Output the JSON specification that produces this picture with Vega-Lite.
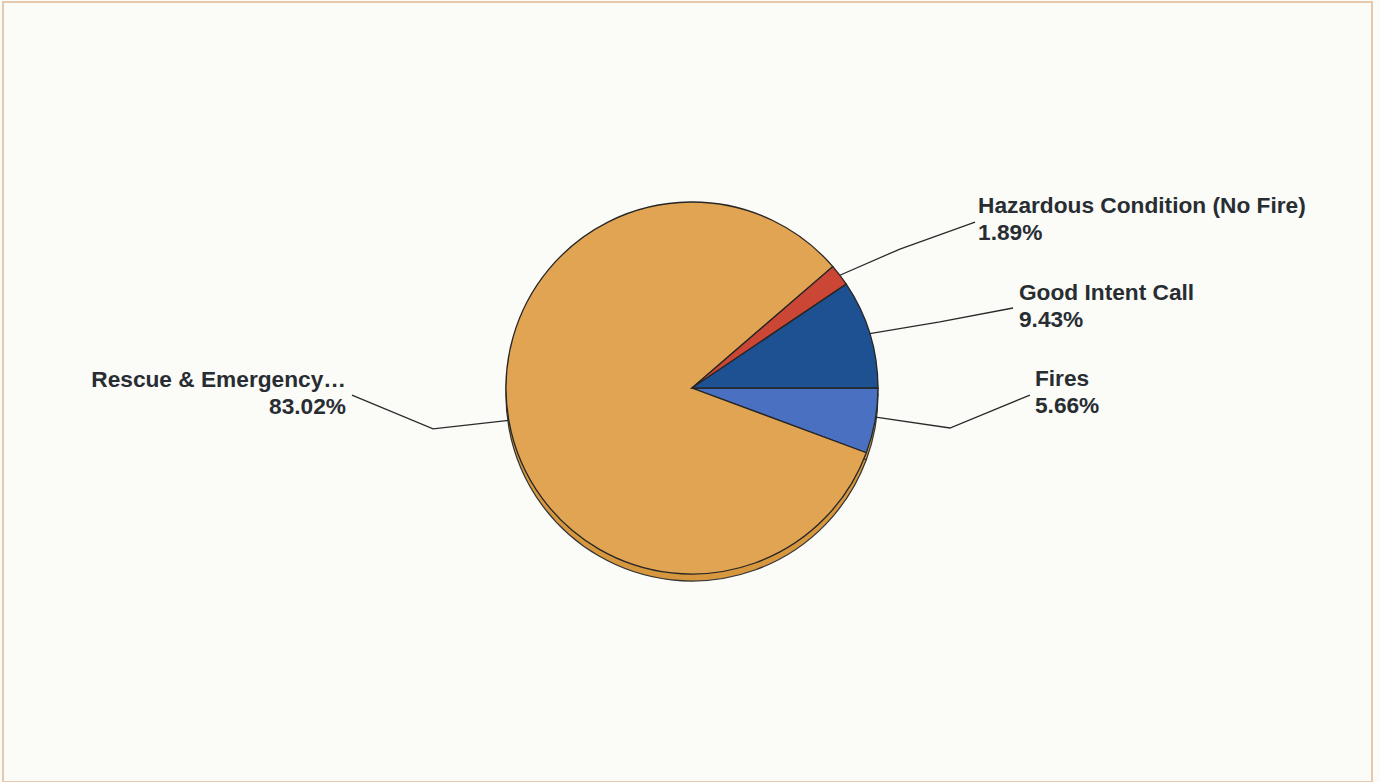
{
  "$schema": "https://vega.github.io/schema/vega-lite/v6.json",
  "width": 1369,
  "height": 780,
  "autosize": {"type": "none"},
  "padding": {"left": 3, "top": 2, "right": 8, "bottom": 0},
  "background": "#FBFBF8",
  "view": {"stroke": "#E6C9AD", "strokeWidth": 2, "fill": "#FBFBF8"},
  "datasets": {
    "slices": [
      {"category": "Fires", "pct": 5.66, "ord": 1},
      {"category": "Rescue & Emergency Medical Service Incident", "pct": 83.02, "ord": 2},
      {"category": "Hazardous Condition (No Fire)", "pct": 1.89, "ord": 3},
      {"category": "Good Intent Call", "pct": 9.43, "ord": 4}
    ],
    "leaders": [
      {"category": "Fires", "seq": 1, "x": 0.988, "y": -0.156},
      {"category": "Fires", "seq": 2, "x": 1.387, "y": -0.215},
      {"category": "Fires", "seq": 3, "x": 1.817, "y": -0.038},
      {"category": "Good Intent Call", "seq": 1, "x": 0.956, "y": 0.292},
      {"category": "Good Intent Call", "seq": 2, "x": 1.333, "y": 0.355},
      {"category": "Good Intent Call", "seq": 3, "x": 1.726, "y": 0.430},
      {"category": "Hazardous Condition (No Fire)", "seq": 1, "x": 0.795, "y": 0.606},
      {"category": "Hazardous Condition (No Fire)", "seq": 2, "x": 1.118, "y": 0.747},
      {"category": "Hazardous Condition (No Fire)", "seq": 3, "x": 1.522, "y": 0.892},
      {"category": "Rescue", "seq": 1, "x": -0.985, "y": -0.174},
      {"category": "Rescue", "seq": 2, "x": -1.392, "y": -0.220},
      {"category": "Rescue", "seq": 3, "x": -1.828, "y": -0.038}
    ],
    "labels": [
      {"label": "Hazardous Condition (No Fire)\n1.89%", "x": 1.538, "y": 0.941, "side": "left"},
      {"label": "Good Intent Call\n9.43%", "x": 1.758, "y": 0.473, "side": "left"},
      {"label": "Fires\n5.66%", "x": 1.844, "y": 0.011, "side": "left"},
      {"label": "Rescue & Emergency…\n83.02%", "x": -1.860, "y": 0.005, "side": "right"}
    ]
  },
  "layer": [
    {
      "data": {"name": "slices"},
      "mark": {"type": "arc", "radius": 186, "fill": "#D6973F", "stroke": "#333333", "strokeWidth": 1.2, "yOffset": 7},
      "encoding": {
        "theta": {"field": "pct", "type": "quantitative", "stack": true, "scale": {"range": [1.5708, 7.854]}},
        "order": {"field": "ord", "type": "quantitative"},
        "x": {"datum": 0, "type": "quantitative", "scale": {"domain": [-3.704, 3.656], "nice": false, "zero": false}, "axis": null},
        "y": {"datum": 0, "type": "quantitative", "scale": {"domain": [-2.118, 2.075], "nice": false, "zero": false}, "axis": null}
      }
    },
    {
      "data": {"name": "slices"},
      "mark": {"type": "arc", "radius": 186, "stroke": "#262626", "strokeWidth": 1.3},
      "encoding": {
        "theta": {"field": "pct", "type": "quantitative", "stack": true, "scale": {"range": [1.5708, 7.854]}},
        "order": {"field": "ord", "type": "quantitative"},
        "x": {"datum": 0, "type": "quantitative"},
        "y": {"datum": 0, "type": "quantitative"},
        "color": {
          "field": "category", "type": "nominal", "legend": null,
          "scale": {
            "domain": ["Fires", "Rescue & Emergency Medical Service Incident", "Hazardous Condition (No Fire)", "Good Intent Call"],
            "range": ["#4A70C2", "#E1A452", "#CB4634", "#1E5191"]
          }
        }
      }
    },
    {
      "data": {"name": "leaders"},
      "mark": {"type": "line", "stroke": "#2A2A2A", "strokeWidth": 1.3},
      "encoding": {
        "x": {"field": "x", "type": "quantitative"},
        "y": {"field": "y", "type": "quantitative"},
        "detail": {"field": "category"},
        "order": {"field": "seq", "type": "quantitative"}
      }
    },
    {
      "data": {"name": "labels"},
      "transform": [{"filter": "datum.side === 'left'"}],
      "mark": {"type": "text", "align": "left", "baseline": "alphabetic", "font": "Liberation Sans", "fontWeight": "bold", "fontSize": 22.7, "lineHeight": 27, "lineBreak": "\n", "color": "#282D32"},
      "encoding": {
        "x": {"field": "x", "type": "quantitative"},
        "y": {"field": "y", "type": "quantitative"},
        "text": {"field": "label"}
      }
    },
    {
      "data": {"name": "labels"},
      "transform": [{"filter": "datum.side === 'right'"}],
      "mark": {"type": "text", "align": "right", "baseline": "alphabetic", "font": "Liberation Sans", "fontWeight": "bold", "fontSize": 22.7, "lineHeight": 27, "lineBreak": "\n", "color": "#282D32"},
      "encoding": {
        "x": {"field": "x", "type": "quantitative"},
        "y": {"field": "y", "type": "quantitative"},
        "text": {"field": "label"}
      }
    }
  ]
}
